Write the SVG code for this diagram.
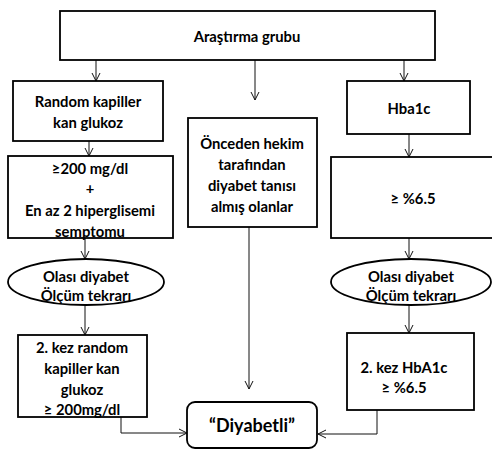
<svg xmlns="http://www.w3.org/2000/svg" width="492" height="450" viewBox="0 0 492 450">
<style>
.box{fill:#fff;stroke:#000;stroke-width:1.8}
.ell{fill:#fff;stroke:#000;stroke-width:1.8}
.t{font-family:Lato,"Open Sans","Liberation Sans",sans-serif;font-weight:bold;font-size:14.8px;fill:#000;text-anchor:middle;dominant-baseline:central}
.c{fill:none;stroke:#111;stroke-width:1;marker-end:url(#a)}
</style>
<defs>
<marker id="a" viewBox="0 0 10 10" refX="9" refY="5" markerWidth="10" markerHeight="10" markerUnits="userSpaceOnUse" orient="auto">
<path d="M1,1 L9,5 L1,9" fill="none" stroke="#111" stroke-width="1"/>
</marker>
</defs>
<rect width="492" height="450" fill="#fff"/>
<g id="connectors">
<path class="c" d="M96,60 V81"/>
<path class="c" d="M255,60 V100"/>
<path class="c" d="M404,60 V81"/>
<path class="c" d="M89,141 V156"/>
<path class="c" d="M409,134 V157"/>
<path class="c" d="M85,232 V259"/>
<path class="c" d="M409,238 V259"/>
<path class="c" d="M85,305 V335"/>
<path class="c" d="M409,305 V333"/>
<path class="c" d="M249,227 V389"/>
<path class="c" d="M121,417 V433 H187"/>
<path class="c" d="M377,410 V434 H318"/>
</g>
<g id="n1"><rect class="box" x="60" y="11" width="375" height="49"/><text class="t" x="247" y="36">Araştırma grubu</text></g>
<g id="n2"><rect class="box" x="13" y="81" width="150" height="60"/><text class="t" x="88" y="101">Random kapiller</text><text class="t" x="88" y="122">kan glukoz</text></g>
<g id="n3"><rect class="box" x="347" y="81" width="123" height="53"/><text class="t" x="409" y="108">Hba1c</text></g>
<g id="n4"><rect class="box" x="188" y="118" width="129" height="109"/><text class="t" x="252" y="143">Önceden hekim</text><text class="t" x="252" y="164">tarafından</text><text class="t" x="252" y="185">diyabet tanısı</text><text class="t" x="252" y="206">almış olanlar</text></g>
<g id="n5"><rect class="box" x="8" y="156" width="165" height="82"/><text class="t" x="90" y="168">≥200 mg/dl</text><text class="t" x="90" y="188">+</text><text class="t" x="90" y="210">En az 2 hiperglisemi</text><text class="t" x="90" y="231">semptomu</text></g>
<g id="n6"><rect class="box" x="331" y="157" width="165" height="81"/><text class="t" x="413" y="198">≥ %6.5</text></g>
<g id="n7"><ellipse class="ell" cx="86" cy="282" rx="78" ry="23"/><text class="t" x="86" y="276">Olası diyabet</text><text class="t" x="86" y="295">Ölçüm tekrarı</text></g>
<g id="n8"><ellipse class="ell" cx="411" cy="282" rx="80" ry="23"/><text class="t" x="411" y="276">Olası diyabet</text><text class="t" x="411" y="295">Ölçüm tekrarı</text></g>
<g id="n9"><rect class="box" x="18" y="335" width="129" height="82"/><text class="t" x="82" y="347">2. kez random</text><text class="t" x="82" y="368">kapiller kan</text><text class="t" x="82" y="389">glukoz</text><text class="t" x="82" y="409">≥ 200mg/dl</text></g>
<g id="n10"><rect class="box" x="347" y="333" width="127" height="77"/><text class="t" x="404" y="367">2. kez HbA1c</text><text class="t" x="404" y="387">≥ %6.5</text></g>
<g id="n11"><rect class="box" x="187" y="402" width="130" height="46" rx="8"/><text class="t" x="252" y="425" style="font-size:18px">“Diyabetli”</text></g>
</svg>
